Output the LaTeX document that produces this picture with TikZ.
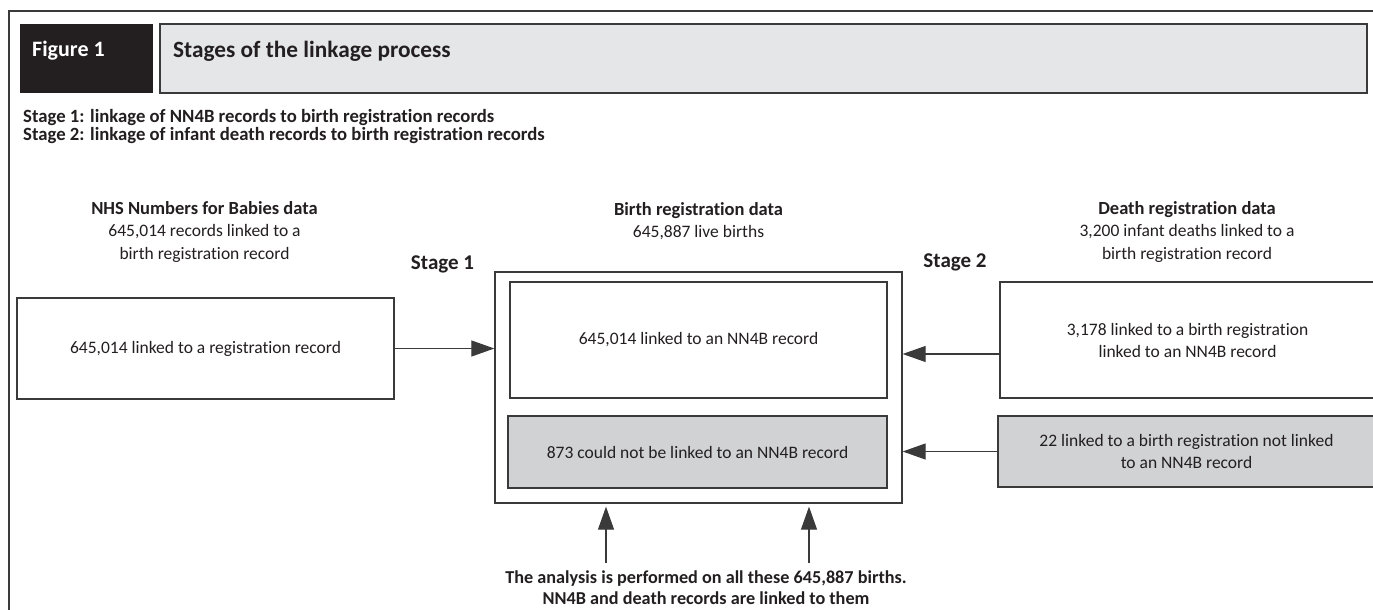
\documentclass[tikz,border=0pt]{standalone}
\usepackage{fontspec}
\setmainfont{Carlito}[Ligatures={NoCommon}]
\usetikzlibrary{arrows.meta,calc}
\definecolor{linecol}{HTML}{3A3A3A}
\definecolor{hdrfill}{HTML}{E5E6E8}
\definecolor{figfill}{HTML}{231F20}
\definecolor{grayfill}{HTML}{D1D2D4}
\definecolor{txt}{HTML}{231F20}
\tikzset{
  box/.style={draw=linecol, line width=1.3pt, fill=white, inner sep=0pt, align=center,
    font=\fontsize{17.5}{22}\selectfont, text=txt},
  graybox/.style={box, fill=grayfill},
  lbl/.style={align=center, inner sep=0pt, font=\fontsize{17.5}{22.5}\selectfont, text=txt},
  boldlbl/.style={font=\bfseries\fontsize{18.5}{22.5}\selectfont},
  stagelbl/.style={inner sep=0pt, font=\bfseries\fontsize{21}{22}\selectfont, text=txt},
  stageline/.style={anchor=west, inner sep=0pt, text=txt, font=\bfseries\fontsize{18.7}{20}\selectfont},
  arr/.style={draw=linecol, line width=1.1pt, -{Triangle[length=23pt,width=16pt]}},
}
\newcommand{\bl}[1]{{\bfseries\fontsize{18.5}{22.5}\selectfont #1}}
\begin{document}
\begin{tikzpicture}[x=1pt,y=-1pt]
\clip (0,0) rectangle (1373,610);
\fill[white] (0,0) rectangle (1373,610);
% frame
\draw[linecol, line width=1.3pt] (9,615) -- (9,11) -- (1380,11);
% header
\node[fill=figfill, minimum width=133pt, minimum height=69pt, inner sep=0pt] (fig) at (86.5,58.5) {};
\node[anchor=west, text=white, inner sep=0pt, font=\bfseries\fontsize{22}{24}\selectfont] (figt) at (32,51) {Figure 1};
\node[draw=linecol, line width=1.3pt, fill=hdrfill, minimum width=1207pt, minimum height=69pt, inner sep=0pt] (hdr) at (763.5,58.5) {};
\node[anchor=west, text=txt, inner sep=0pt, font=\bfseries\fontsize{23.3}{26}\selectfont] (hdrt) at (173,51) {Stages of the linkage process};
% stage description
\node[stageline] (s1) at (23,118) {Stage 1: linkage of NN4B records to birth registration records};
\node[stageline] (s2) at (23,136) {Stage 2: linkage of infant death records to birth registration records};
% column titles
\node[lbl] (nhsl) at (204.5,232) {\bl{NHS Numbers for Babies data}\\645,014 records linked to a\\birth registration record};
\node[lbl] (brl) at (698.5,221) {\bl{Birth registration data}\\645,887 live births};
\node[lbl] (drl) at (1187,232) {\bl{Death registration data}\\3,200 infant deaths linked to a\\birth registration record};
\node[stagelbl] (st1) at (442.5,264) {Stage 1};
\node[stagelbl] (st2) at (955,262) {Stage 2};
% boxes
\node[box, minimum width=377pt, minimum height=101pt] (L) at (205.5,348.5) {645,014 linked to a registration record};
\node[box, minimum width=407pt, minimum height=231pt] (O) at (698.5,387.5) {};
\node[box, minimum width=377pt, minimum height=116pt] (IT) at (698.5,340) {645,014 linked to an NN4B record};
\node[graybox, minimum width=379pt, minimum height=72pt] (IG) at (697.5,452) {873 could not be linked to an NN4B record};
\node[box, minimum width=375pt, minimum height=116pt] (RT) at (1187.5,340) {3,178 linked to a birth registration\\linked to an NN4B record};
\node[graybox, minimum width=377pt, minimum height=71pt] (RG) at (1186.5,451.5) {22 linked to a birth registration not linked\\to an NN4B record};
% bottom note
\node[lbl, font=\bfseries\fontsize{18.2}{21}\selectfont] (note) at (706,588) {The analysis is performed on all these 645,887 births.\\NN4B and death records are linked to them};
% arrows
\draw[arr] (L.east) -- (L.east -| O.west);
\coordinate (a2) at ([yshift=-14pt]RT.west);
\draw[arr] (a2) -- (a2 -| O.east);
\draw[arr] (RG.west) -- (RG.west -| O.east);
\coordinate (u1) at (606,563);
\coordinate (u2) at (809,563);
\draw[arr, shorten >=3pt] (u1) -- (u1 |- O.south);
\draw[arr, shorten >=3pt] (u2) -- (u2 |- O.south);
\end{tikzpicture}
\end{document}
